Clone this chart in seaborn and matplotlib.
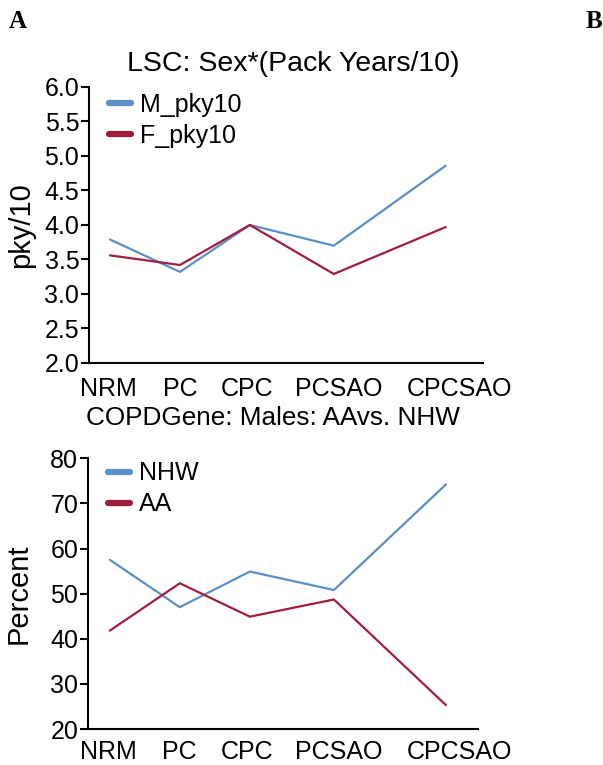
import matplotlib
matplotlib.use("Agg")
import matplotlib.pyplot as plt
import seaborn as sns
import pandas as pd

# categories
stages = ["NRM", "PC", "CPC", "PCSAO", "CPCSAO"]

# panel 1 : pack years / 10 by sex
m_pky10 = [3.79, 3.32, 4.00, 3.70, 4.86]
f_pky10 = [3.56, 3.42, 4.00, 3.29, 3.97]

# panel 2 : percent NHW vs AA (males)
nhw_pct = [57.5, 47.0, 54.9, 50.8, 74.2]
aa_pct = [41.8, 52.3, 44.9, 48.7, 25.3]

# horizontal placement of the stages (uneven in the original)
x_pos = [0, 1, 2, 3.2, 4.8]
label_pos = [-0.02, 1.0, 1.96, 3.27, 5.0]

BLUE = "#5a8fc8"
RED = "#a31d3d"

sns.set_theme(style="ticks")
plt.rcParams["font.family"] = ["Liberation Sans", "DejaVu Sans"]
plt.rcParams["text.color"] = "black"
plt.rcParams["axes.labelcolor"] = "black"

fig = plt.figure(figsize=(6.03, 7.65), dpi=100)
ax1 = fig.add_axes([0.1476, 0.5255, 0.653, 0.3608])
ax2 = fig.add_axes([0.146, 0.047, 0.647, 0.354])


def draw(ax, s1, s2, names, ylim, yticks, fmt, ylabel, xlim, xpad, lab_x, leg_y):
    df = pd.DataFrame({
        "x": x_pos * 2,
        "y": s1 + s2,
        "grp": [names[0]] * len(s1) + [names[1]] * len(s2),
    })
    sns.lineplot(data=df, x="x", y="y", hue="grp", palette=[BLUE, RED],
                 linewidth=1.6, ax=ax, legend=True)
    ax.set_ylim(*ylim)
    ax.set_xlim(*xlim)
    ax.set_yticks(yticks)
    ax.set_yticklabels([fmt.format(v) for v in yticks])
    ax.set_xticks(label_pos)
    ax.set_xticklabels(stages)
    ax.tick_params(axis="y", length=6, width=1.5, labelsize=18, pad=1, colors="black")
    ax.tick_params(axis="x", length=0, labelsize=18, pad=xpad, colors="black")
    for sp in ["top", "right"]:
        ax.spines[sp].set_visible(False)
    for sp in ["left", "bottom"]:
        ax.spines[sp].set_linewidth(1.5)
        ax.spines[sp].set_color("black")
    ax.set_xlabel("")
    ax.set_ylabel(ylabel, fontsize=21)
    ax.yaxis.set_label_coords(lab_x, 0.5)
    leg = ax.legend(loc="upper left", bbox_to_anchor=(0.025, leg_y), frameon=False,
                    fontsize=18, handlelength=0.9, handletextpad=0.36,
                    labelspacing=0.28, borderaxespad=0)
    for h in leg.get_lines():
        h.set_linewidth(4.5)


draw(ax1, m_pky10, f_pky10, ["M_pky10", "F_pky10"], (2.0, 6.0),
     [2.0, 2.5, 3.0, 3.5, 4.0, 4.5, 5.0, 5.5, 6.0], "{:.1f}", "pky/10",
     (-0.3, 5.33), 10, -0.137, 1.015)
draw(ax2, nhw_pct, aa_pct, ["NHW", "AA"], (20, 80),
     [20, 30, 40, 50, 60, 70, 80], "{:.0f}", "Percent",
     (-0.31, 5.26), 8, -0.141, 1.025)

fig.text(0.486, 1 - 64 / 765, "LSC: Sex*(Pack Years/10)", ha="center", va="center",
         fontsize=20.5)
fig.text(0.453, 1 - 418 / 765, "COPDGene: Males: AAvs. NHW", ha="center", va="center",
         fontsize=18.8)

fig.text(0.015, 1 - 22 / 765, "A", fontsize=18, fontweight="bold",
         family="Liberation Serif", va="center", ha="left")
fig.text(0.972, 1 - 22 / 765, "B", fontsize=18, fontweight="bold",
         family="Liberation Serif", va="center", ha="left")

fig.savefig("out.png", dpi=100)
